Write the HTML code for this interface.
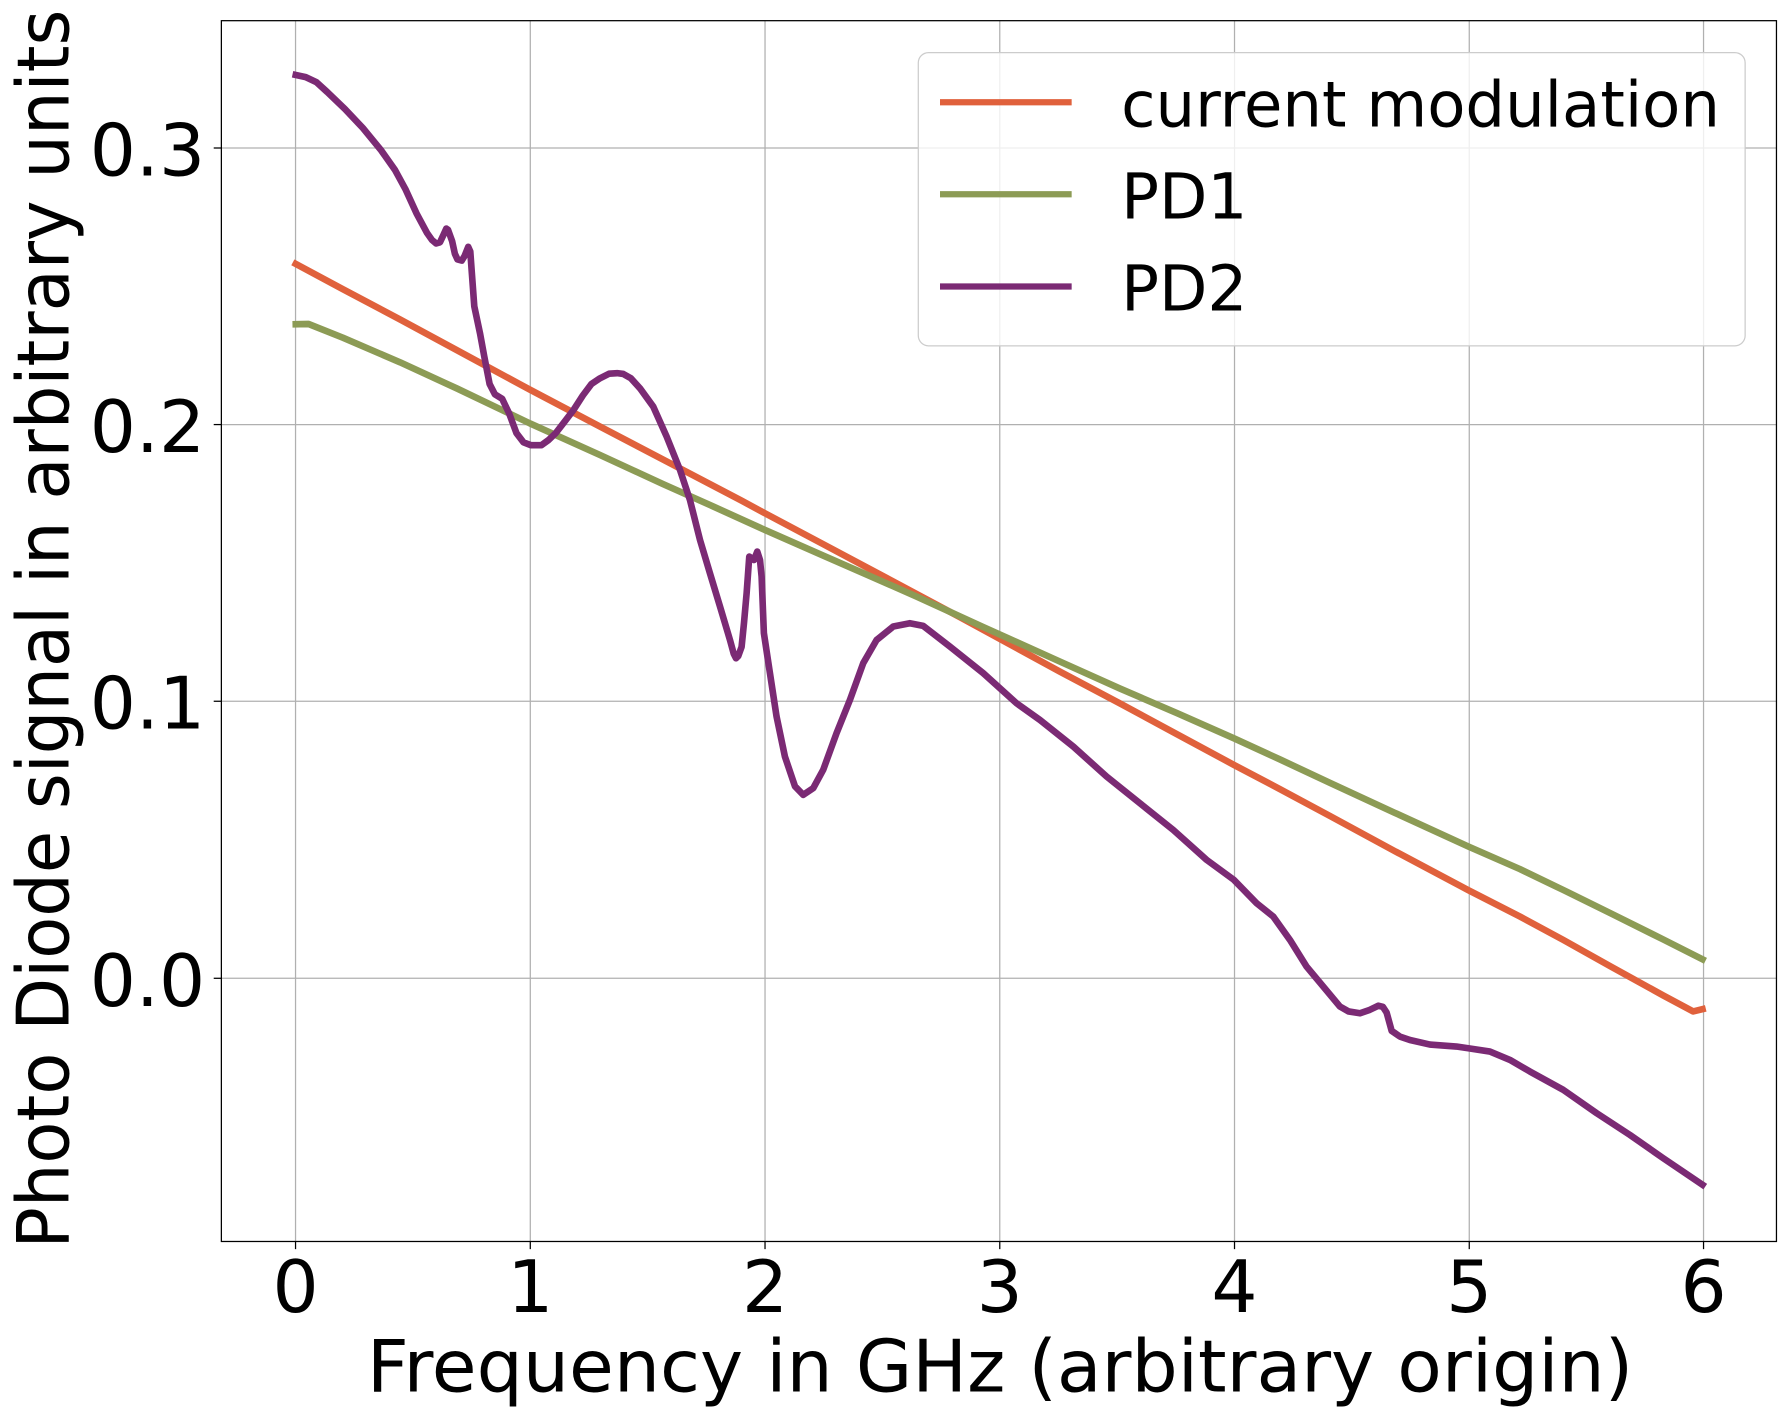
<!DOCTYPE html>
<html>
<head>
<meta charset="utf-8">
<style>
  html, body { margin: 0; padding: 0; background: #ffffff; }
  svg { display: block; }
  text { font-family: "DejaVu Sans", "Liberation Sans", sans-serif; fill: #000; }
</style>
</head>
<body>
<svg width="1792" height="1414" viewBox="0 0 1568 1237.25" xmlns="http://www.w3.org/2000/svg">
  <rect x="0" y="0" width="1568" height="1237.25" fill="#ffffff"/>

  <!-- grid -->
  <g stroke="#b0b0b0" stroke-width="1.1" fill="none">
    <line x1="258.6" y1="18.1" x2="258.6" y2="1086.3"/>
    <line x1="464.0" y1="18.1" x2="464.0" y2="1086.3"/>
    <line x1="669.4" y1="18.1" x2="669.4" y2="1086.3"/>
    <line x1="874.8" y1="18.1" x2="874.8" y2="1086.3"/>
    <line x1="1080.2" y1="18.1" x2="1080.2" y2="1086.3"/>
    <line x1="1285.6" y1="18.1" x2="1285.6" y2="1086.3"/>
    <line x1="1490.6" y1="18.1" x2="1490.6" y2="1086.3"/>
    <line x1="193.7" y1="129.5" x2="1554.4" y2="129.5"/>
    <line x1="193.7" y1="371.5" x2="1554.4" y2="371.5"/>
    <line x1="193.7" y1="613.6" x2="1554.4" y2="613.6"/>
    <line x1="193.7" y1="856.0" x2="1554.4" y2="856.0"/>
  </g>

  <!-- series -->
  <g fill="none" stroke-width="5.8" stroke-linejoin="round" stroke-linecap="square">
    <polyline stroke="#e0613c" points="258.8,230.9 300,253 350,279.5 400,306.5 463.75,341 525,373.2 580,402 648.75,438 669.3,449.1 720,476 780,508 840,540 874.8,559 927.3,587.6 980,615.5 1030,642.5 1079.7,669.3 1120,690.5 1163.75,714 1220,744.5 1285,779 1330,802 1367.8,822.4 1410,846 1455.3,871 1481.5,885 1489.7,883"/>
    <polyline stroke="#8c9b55" points="258.8,283.7 270,283.5 300,295.5 350,317 400,340 463.75,370.5 525,398.1 580,423.5 623.75,443 669.3,463.7 720,486 760,503.5 802,522 860,548.5 927.3,578.8 980,602.5 1030,624 1079.7,646 1120,664.5 1163.75,685 1220,711 1285,740.8 1330,760.5 1367.8,778.7 1410,799.5 1455.3,822 1489.7,839.4"/>
    <polyline stroke="#7b2a74" points="258.8,65.6 267.5,67.5 277,72 286.3,80.5 301.9,95.5 317.5,112 333.1,131 345.6,148.7 355,166 364.4,186.6 373.75,204 378,210 381.6,213 385,212 387.8,206 390.5,200 392,201 395.6,211 398,222 400.3,227 404,228 406.5,224 409.7,216 411.5,220 412.8,238 415,268 420,291.6 423.75,312 428.4,336 433,345 439.4,349 445.6,362 451.9,379 458,387 464.4,389.5 473.75,389.5 480,385 486.25,379 494,369 501.9,358.6 510,346 517.5,336 525,331 533,327 540,326.5 545.4,327.2 552,331 560,339.8 571.6,355.8 583.3,382 595,411.2 603.7,437.5 612.5,472.4 621.2,501.6 630,530.7 638.7,559.9 642,572 644,576 646,574 648.9,566 651,545 653.3,519 655.6,487 659.7,490 662.6,482.6 665,490 666.4,504.5 668.4,554 673.7,589 679.5,627 686.8,662 695.6,688 702.8,695.5 711.6,689.6 720.3,673.6 732,641.5 743.7,612.4 755.3,580.3 767,560 781.6,548.2 796.1,545.3 807.8,547.6 831.1,565.7 860.3,589 889.4,615.3 910,630 939.2,653.3 968.3,679.5 997.5,702.9 1026.6,726.2 1055.8,752.4 1079.7,769.9 1099.5,790.3 1114.1,802 1128.7,822.4 1143.2,845.7 1157.8,863.2 1172.4,880.7 1180,885 1190,886.6 1198.6,883.6 1206,880 1210,881 1213.3,886 1217.7,902 1225,907 1233.7,910 1251.2,914 1274.4,915.7 1284.7,917.2 1303.7,920.1 1321.2,927.4 1338.7,937.6 1367.8,953.6 1397,974 1426.1,993 1455.3,1013.4 1489.7,1036.7"/>
  </g>

  <!-- spines -->
  <rect x="193.7" y="18.1" width="1360.7" height="1068.2" fill="none" stroke="#000" stroke-width="1.1"/>

  <!-- ticks -->
  <g stroke="#000" stroke-width="1.1">
    <line x1="258.6" y1="1086.3" x2="258.6" y2="1093"/>
    <line x1="464.0" y1="1086.3" x2="464.0" y2="1093"/>
    <line x1="669.4" y1="1086.3" x2="669.4" y2="1093"/>
    <line x1="874.8" y1="1086.3" x2="874.8" y2="1093"/>
    <line x1="1080.2" y1="1086.3" x2="1080.2" y2="1093"/>
    <line x1="1285.6" y1="1086.3" x2="1285.6" y2="1093"/>
    <line x1="1490.6" y1="1086.3" x2="1490.6" y2="1093"/>
    <line x1="187" y1="129.5" x2="193.7" y2="129.5"/>
    <line x1="187" y1="371.5" x2="193.7" y2="371.5"/>
    <line x1="187" y1="613.6" x2="193.7" y2="613.6"/>
    <line x1="187" y1="856.0" x2="193.7" y2="856.0"/>
  </g>

  <!-- tick labels -->
  <g font-size="63.5" text-anchor="middle">
    <text x="258.6" y="1148">0</text>
    <text x="464.0" y="1148">1</text>
    <text x="669.4" y="1148">2</text>
    <text x="874.8" y="1148">3</text>
    <text x="1080.2" y="1148">4</text>
    <text x="1285.6" y="1148">5</text>
    <text x="1490.6" y="1148">6</text>
  </g>
  <g font-size="63.5" text-anchor="end">
    <text x="179.5" y="153.5">0.3</text>
    <text x="179.5" y="395.5">0.2</text>
    <text x="179.5" y="637.6">0.1</text>
    <text x="179.5" y="880.2">0.0</text>
  </g>

  <!-- axis labels -->
  <text x="875" y="1217.5" font-size="63" text-anchor="middle" textLength="1108" lengthAdjust="spacingAndGlyphs">Frequency in GHz (arbitrary origin)</text>
  <text transform="translate(60,550.5) rotate(-90)" x="0" y="0" font-size="63" text-anchor="middle" textLength="1084" lengthAdjust="spacingAndGlyphs">Photo Diode signal in arbitrary units</text>

  <!-- legend -->
  <rect x="803.5" y="46" width="723.5" height="256.6" rx="9" ry="9" fill="#ffffff" fill-opacity="0.8" stroke="#cccccc" stroke-width="1.1"/>
  <g stroke-width="5.5" stroke-linecap="butt">
    <line x1="822.5" y1="89.5" x2="937.7" y2="89.5" stroke="#e0613c"/>
    <line x1="822.5" y1="170" x2="937.7" y2="170" stroke="#8c9b55"/>
    <line x1="822.5" y1="250.7" x2="937.7" y2="250.7" stroke="#7b2a74"/>
  </g>
  <g font-size="55">
    <text x="981" y="110.5" textLength="524" lengthAdjust="spacingAndGlyphs">current modulation</text>
    <text x="981" y="191">PD1</text>
    <text x="981" y="271.5">PD2</text>
  </g>
</svg>
</body>
</html>
